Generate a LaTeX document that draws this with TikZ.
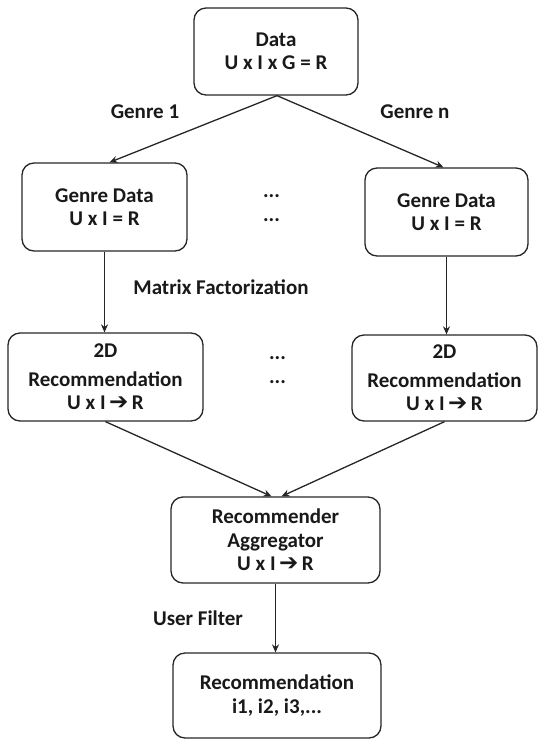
\documentclass[tikz,border=0pt]{standalone}
\usepackage{fontspec}
\setmainfont{Carlito}
\newfontfamily\arrowfont{DejaVu Sans}
\usetikzlibrary{arrows.meta,calc}
\newcommand{\thickarr}{\,{\arrowfont\bfseries\fontsize{23}{23}\selectfont ➔}\,}
\begin{document}
\begin{tikzpicture}[x=1pt,y=-1pt,
  font=\fontsize{21}{23.5}\selectfont\bfseries,
  box/.style={draw=black!85, line width=1.3pt, rounded corners=12pt, align=center, inner sep=0pt, text=black!90},
  conn/.style={draw=black!85, line width=1.3pt, -{Stealth[length=8pt,width=7pt]}},
  lab/.style={text=black!90, inner sep=0pt}]
\useasboundingbox (0,0) rectangle (539,740);
\node[box, minimum width=164pt, minimum height=87pt] (data) at (276,51.5) {Data\\U x I x G = R};
\node[box, minimum width=165pt, minimum height=88pt] (gl) at (104.5,207) {Genre Data\\U x I = R};
\node[box, minimum width=163pt, minimum height=88pt] (gr) at (446.5,212) {Genre Data\\U x I = R};
\node[box, minimum width=195pt, minimum height=88pt] (rl) at (105.5,377) {2D\\[5pt]Recommendation\\U x I\thickarr R};
\node[box, minimum width=185pt, minimum height=86pt] (rr) at (444.5,378) {2D\\[5pt]Recommendation\\U x I\thickarr R};
\node[box, minimum width=209pt, minimum height=86pt] (agg) at (275.5,540) {Recommender\\Aggregator\\U x I\thickarr R};
\node[box, minimum width=208pt, minimum height=85pt] (rec) at (277,695.5) {Recommendation\\i1, i2, i3,...};

\node[lab] (g1) at (145,112) {Genre 1};
\node[lab] (gn) at (415,112) {Genre n};
\node[lab] (mf) at (221,287) {Matrix Factorization};
\node[lab] (uf) at (198,618) {User Filter};
\node[lab] (d1) at (271.5,196) {...};
\node[lab] (d2) at (271.5,220) {...};
\node[lab] (d3) at (277.5,358) {...};
\node[lab] (d4) at (277.5,382) {...};

\draw[conn] ([xshift=1pt]data.south) -- ([xshift=5pt]gl.north);
\draw[conn] ([xshift=1pt]data.south) -- ([xshift=-3pt]gr.north);
\draw[conn] (gl.south) -- (gl.south |- rl.north);
\draw[conn] (gr.south) -- (gr.south |- rr.north);
\draw[conn] (rl.south) -- ([xshift=-4pt]agg.north);
\draw[conn] (rr.south) -- ([xshift=6pt]agg.north);
\draw[conn] (agg.south) -- (agg.south |- rec.north);
\end{tikzpicture}
\end{document}
